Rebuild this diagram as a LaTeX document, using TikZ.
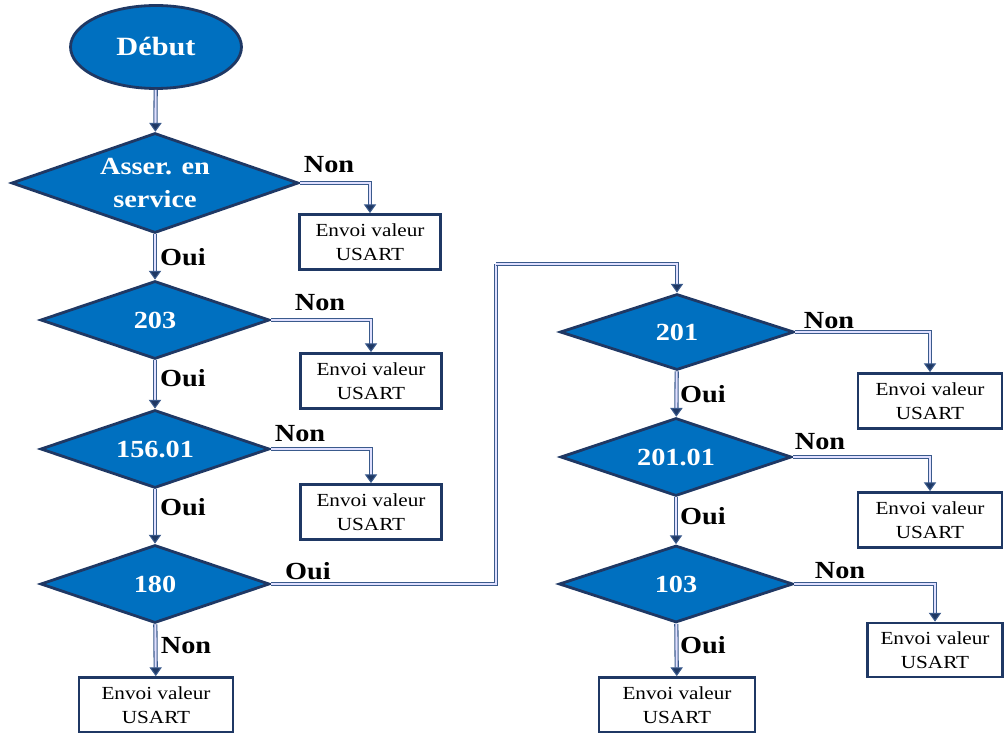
\documentclass[tikz,border=0pt]{standalone}
\usepackage{fontspec}
\setmainfont{Liberation Serif}[FakeStretch=1.15]
\usepackage{tikz}
\usetikzlibrary{positioning}
\usetikzlibrary{shapes.geometric, arrows.meta}

\definecolor{fillblue}{HTML}{0070C0}
\definecolor{navy}{HTML}{1F3864}
\definecolor{linkblue}{HTML}{3A5A8C}

\begin{document}
\begin{tikzpicture}[x=0.02cm, y=-0.02cm,
    startnode/.style={ellipse, draw=navy, line width=1.6pt, fill=fillblue,
        minimum width=3.42cm, minimum height=1.66cm, text=white,
        font=\fontsize{15}{18}\selectfont\bfseries},
    testnode/.style={diamond, aspect=2.9, draw=navy, line width=1.6pt, fill=fillblue,
        inner sep=0pt, text=white, align=center,
        font=\fontsize{14}{19}\selectfont\bfseries},
    sendbox/.style={rectangle, draw=navy, line width=1.6pt, fill=white,
        minimum width=2.82cm, minimum height=1.1cm, align=center, inner sep=1pt,
        font=\fontsize{10.5}{14}\selectfont},
    answer/.style={font=\fontsize{14}{16}\selectfont\bfseries},
    link/.style={draw=linkblue, line width=0.6pt, double=white!88!blue,
        double distance=1.2pt, -{Triangle[width=7pt,length=5pt,fill=navy]}},
    plainlink/.style={draw=linkblue, line width=0.6pt, double=white!88!blue,
        double distance=1.2pt}]

    \useasboundingbox (0,0) rectangle (1004,733);

    % left column
    \node[startnode] (debut) at (156, 47) {Début};
    \node[testnode, minimum width=5.74cm, minimum height=2.0cm] (asser) at (155, 183)
        {Asser. en\\service};
    \node[testnode, minimum width=4.58cm, minimum height=1.56cm] (t203) at (155, 320) {203};
    \node[testnode, minimum width=4.58cm, minimum height=1.56cm] (t156) at (155, 449) {156.01};
    \node[testnode, minimum width=4.58cm, minimum height=1.56cm] (t180) at (155, 584) {180};

    % right column
    \node[testnode, minimum width=4.68cm, minimum height=1.52cm] (t201) at (677, 332) {201};
    \node[testnode, minimum width=4.62cm, minimum height=1.56cm] (t20101) at (676, 457) {201.01};
    \node[testnode, minimum width=4.68cm, minimum height=1.54cm] (t103) at (676, 584) {103};

    % boxes for sending the value
    \node[sendbox] (envA) at (370, 242) {Envoi valeur\\USART};
    \node[sendbox] (envB) at (371, 381) {Envoi valeur\\USART};
    \node[sendbox] (envC) at (371, 512) {Envoi valeur\\USART};
    \node[sendbox, minimum width=3.08cm] (envD) at (156, 705) {Envoi valeur\\USART};
    \node[sendbox, minimum width=2.88cm] (envE) at (930, 401) {Envoi valeur\\USART};
    \node[sendbox, minimum width=2.88cm] (envF) at (930, 520) {Envoi valeur\\USART};
    \node[sendbox, minimum width=2.7cm, minimum height=1.08cm] (envG) at (935, 650) {Envoi valeur\\USART};
    \node[sendbox, minimum width=3.12cm] (envH) at (677, 705) {Envoi valeur\\USART};

    % corners of the jump to the right column
    \coordinate (jumpA) at (496, 264);

    % connectors
    \draw[link] (debut) -- (asser);
    \draw[link] (asser.east) -| (envA.north);
    \draw[link] (asser) -- (t203);
    \draw[link] (t203.east) -| (envB.north);
    \draw[link] (t203) -- (t156);
    \draw[link] (t156.east) -| (envC.north);
    \draw[link] (t156) -- (t180);
    \draw[link] (t180) -- (envD);
    \draw[plainlink] (t180.east) -| (jumpA);
    \draw[link] (jumpA) -| (t201.north);
    \draw[link] (t201.east) -| (envE.north);
    \draw[link] (t201) -- (t20101);
    \draw[link] (t20101.east) -| (envF.north);
    \draw[link] (t20101) -- (t103);
    \draw[link] (t103.east) -| (envG.north);
    \draw[link] (t103) -- (envH);

    % answers
    \node[answer] (nonA) at (329, 165) {Non};
    \node[answer] (ouiA) at (183, 257) {Oui};
    \node[answer] (nonB) at (320, 303) {Non};
    \node[answer] (ouiB) at (183, 378) {Oui};
    \node[answer] (nonC) at (300, 434) {Non};
    \node[answer] (ouiC) at (183, 507) {Oui};
    \node[answer] (ouiD) at (308, 571) {Oui};
    \node[answer] (nonD) at (186, 646) {Non};
    \node[answer] (nonE) at (829, 321) {Non};
    \node[answer] (ouiE) at (703, 394) {Oui};
    \node[answer] (nonF) at (820, 442) {Non};
    \node[answer] (ouiF) at (703, 516) {Oui};
    \node[answer] (nonG) at (840, 571) {Non};
    \node[answer] (ouiG) at (703, 645) {Oui};

\end{tikzpicture}
\end{document}
